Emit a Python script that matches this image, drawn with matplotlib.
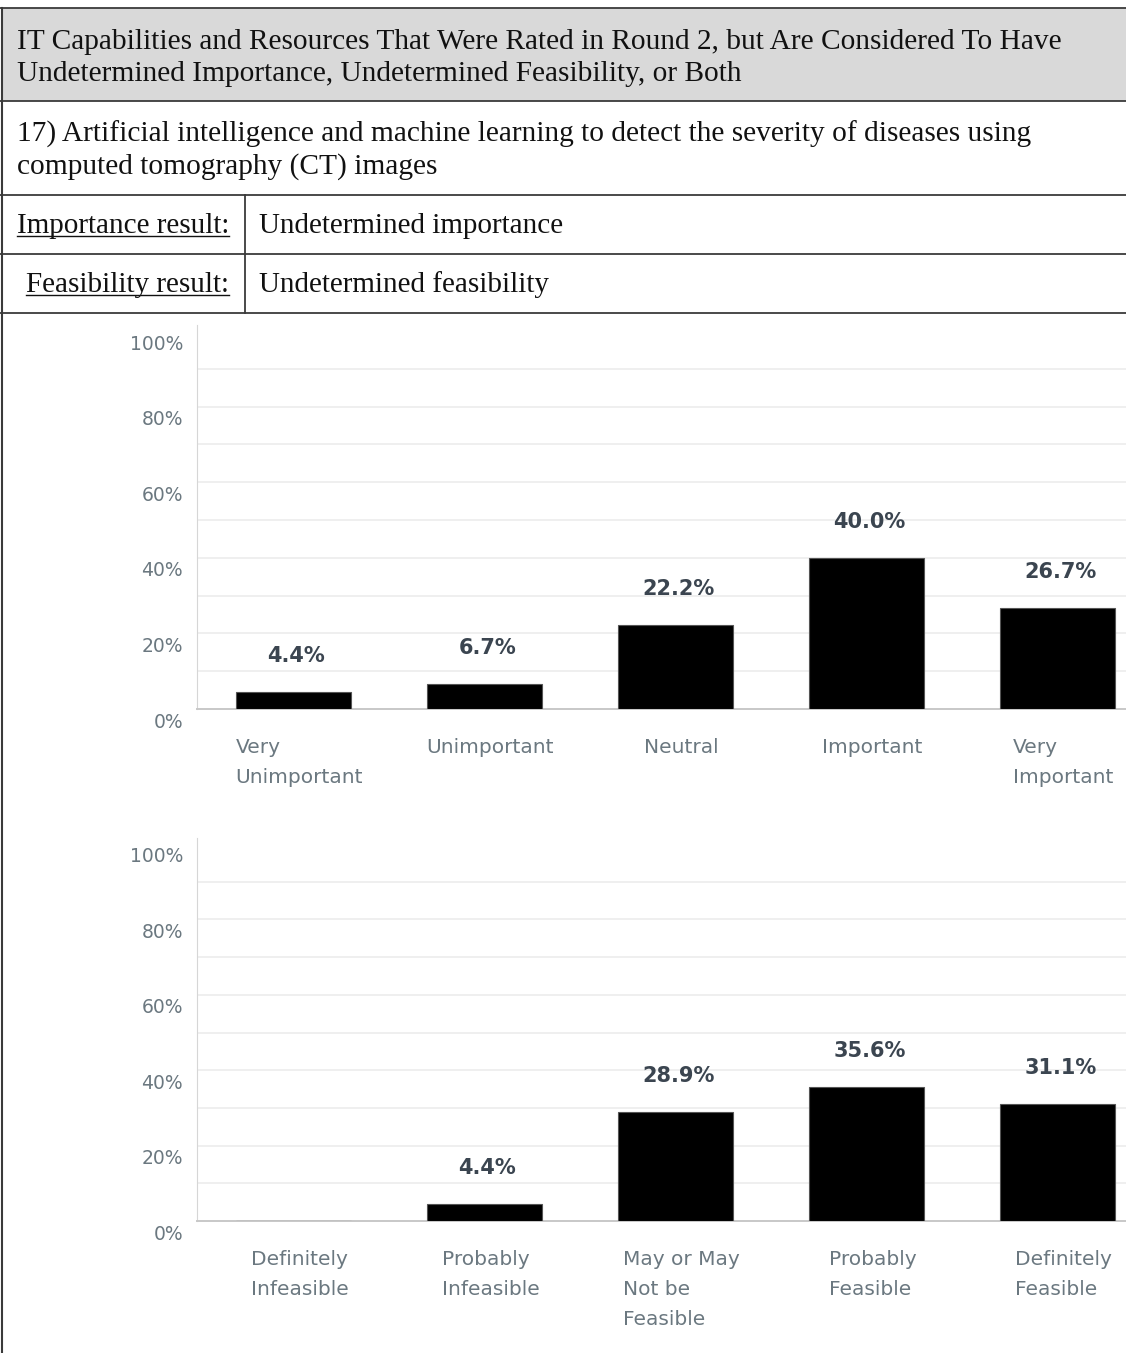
import matplotlib
matplotlib.use("Agg")
import matplotlib.pyplot as plt
from matplotlib.lines import Line2D
from matplotlib.patches import Rectangle
from matplotlib.transforms import ScaledTranslation
from matplotlib.ticker import MultipleLocator, FuncFormatter

# survey results (percent of respondents)
importance_labels = ["Very\nUnimportant", "Unimportant", "Neutral", "Important", "Very\nImportant"]
importance_pct = [4.4, 6.7, 22.2, 40.0, 26.7]

feasibility_labels = ["Definitely\nInfeasible", "Probably\nInfeasible", "May or May\nNot be\nFeasible",
                      "Probably\nFeasible", "Definitely\nFeasible"]
feasibility_pct = [0.0, 4.4, 28.9, 35.6, 31.1]

header_lines = ["IT Capabilities and Resources That Were Rated in Round 2, but Are Considered To Have",
                "Undetermined Importance, Undetermined Feasibility, or Both"]
item_lines = ["17) Artificial intelligence and machine learning to detect the severity of diseases using",
              "computed tomography (CT) images"]
importance_result = "Undetermined importance"
feasibility_result = "Undetermined feasibility"

W, H = 1126, 1353
DPI = 100
fig = plt.figure(figsize=(W / DPI, H / DPI), dpi=DPI)


def fx(px):
    return px / W


def fy(py):
    return 1 - py / H


SERIF = "Liberation Serif"
SANS = "DejaVu Sans"
LINE = "#3a3a3a"
TXT = "#111111"

# table frame
fig.patches.append(Rectangle((fx(1), fy(101)), fx(1126) - fx(1), fy(8) - fy(101),
                             transform=fig.transFigure, facecolor="#d9d9d9", edgecolor="none"))
for yy in [8, 101, 195, 254, 313]:
    fig.lines.append(Line2D([fx(0), fx(1126)], [fy(yy), fy(yy)], transform=fig.transFigure,
                            color=LINE, lw=1.3))
fig.lines.append(Line2D([fx(1.5), fx(1.5)], [fy(8), fy(1353)], transform=fig.transFigure, color=LINE, lw=1.5))
fig.lines.append(Line2D([fx(245), fx(245)], [fy(195), fy(313)], transform=fig.transFigure, color=LINE, lw=1.3))

for i, line in enumerate(header_lines):
    fig.text(fx(17), fy(42 + 32 * i), line, family=SERIF, fontsize=21.2, va="center", ha="left", color=TXT)
for i, line in enumerate(item_lines):
    fig.text(fx(17), fy(134 + 33 * i), line, family=SERIF, fontsize=21.2, va="center", ha="left", color=TXT)

t_imp = fig.text(fx(229), fy(226), "Importance result:", family=SERIF, fontsize=21, va="center", ha="right",
                 color=TXT)
t_fea = fig.text(fx(229), fy(285), "Feasibility result:", family=SERIF, fontsize=21, va="center", ha="right",
                 color=TXT)
fig.text(fx(259), fy(226), importance_result, family=SERIF, fontsize=21, va="center", ha="left", color=TXT)
fig.text(fx(259), fy(285), feasibility_result, family=SERIF, fontsize=21, va="center", ha="left", color=TXT)


def draw_chart(ax, labels, values):
    x = list(range(len(values)))
    bars = ax.bar(x, values, width=0.6, color="black", edgecolor="#555555", linewidth=0.8, zorder=3)
    for b, v in zip(bars, values):
        if v > 0:
            ax.annotate(f"{v:.1f}%", (b.get_x() + b.get_width() / 2, v), xytext=(3, 30),
                        textcoords="offset pixels", ha="center", va="baseline",
                        family=SANS, fontsize=15, fontweight="bold", color="#3b4550")
    ax.set_xlim(-0.505, 4.359)
    ax.set_ylim(0, 100)
    ax.yaxis.set_major_locator(MultipleLocator(20))
    ax.yaxis.set_major_formatter(FuncFormatter(lambda v, p: f"{v:.0f}%"))
    # light guide lines every 10%, none on the top edge
    for g in range(10, 100, 10):
        ax.axhline(g, color="#ececec", lw=1.2, zorder=0)
    for s in ["top", "right"]:
        ax.spines[s].set_visible(False)
    ax.spines["left"].set_color("#d6d6d6")
    ax.spines["left"].set_bounds(0, 101.5)
    ax.spines["bottom"].set_color("#c8c8c8")
    ax.spines["bottom"].set_linewidth(1.4)
    ax.tick_params(axis="y", length=0, pad=10, labelsize=13.5, labelcolor="#6b7880")
    ax.tick_params(axis="x", length=0, pad=21, labelsize=14.5, labelcolor="#6b7880")
    for lab in ax.get_yticklabels():
        lab.set_family(SANS)
        lab.set_transform(lab.get_transform() + ScaledTranslation(0, -11 / DPI, fig.dpi_scale_trans))
    ax.set_xticks(x)
    ax.set_xticklabels(labels, family=SANS, va="top", linespacing=1.72)
    for lab in ax.get_xticklabels():
        lab.set_multialignment("left")
        lab.set_transform(lab.get_transform() + ScaledTranslation(6 / DPI, 0, fig.dpi_scale_trans))


ax1 = fig.add_axes([fx(197), fy(709), 1 - fx(197), fy(331) - fy(709)])
draw_chart(ax1, importance_labels, importance_pct)

ax2 = fig.add_axes([fx(197), fy(1221), 1 - fx(197), fy(844) - fy(1221)])
draw_chart(ax2, feasibility_labels, feasibility_pct)

# underline the row captions
fig.canvas.draw()
r = fig.canvas.get_renderer()
for t in [t_imp, t_fea]:
    bb = t.get_window_extent(r).transformed(fig.transFigure.inverted())
    uy = bb.y0 + 3.5 / H
    fig.lines.append(Line2D([bb.x0, bb.x1], [uy, uy], transform=fig.transFigure, color=TXT, lw=1.0))

fig.savefig("out.png", dpi=DPI)
